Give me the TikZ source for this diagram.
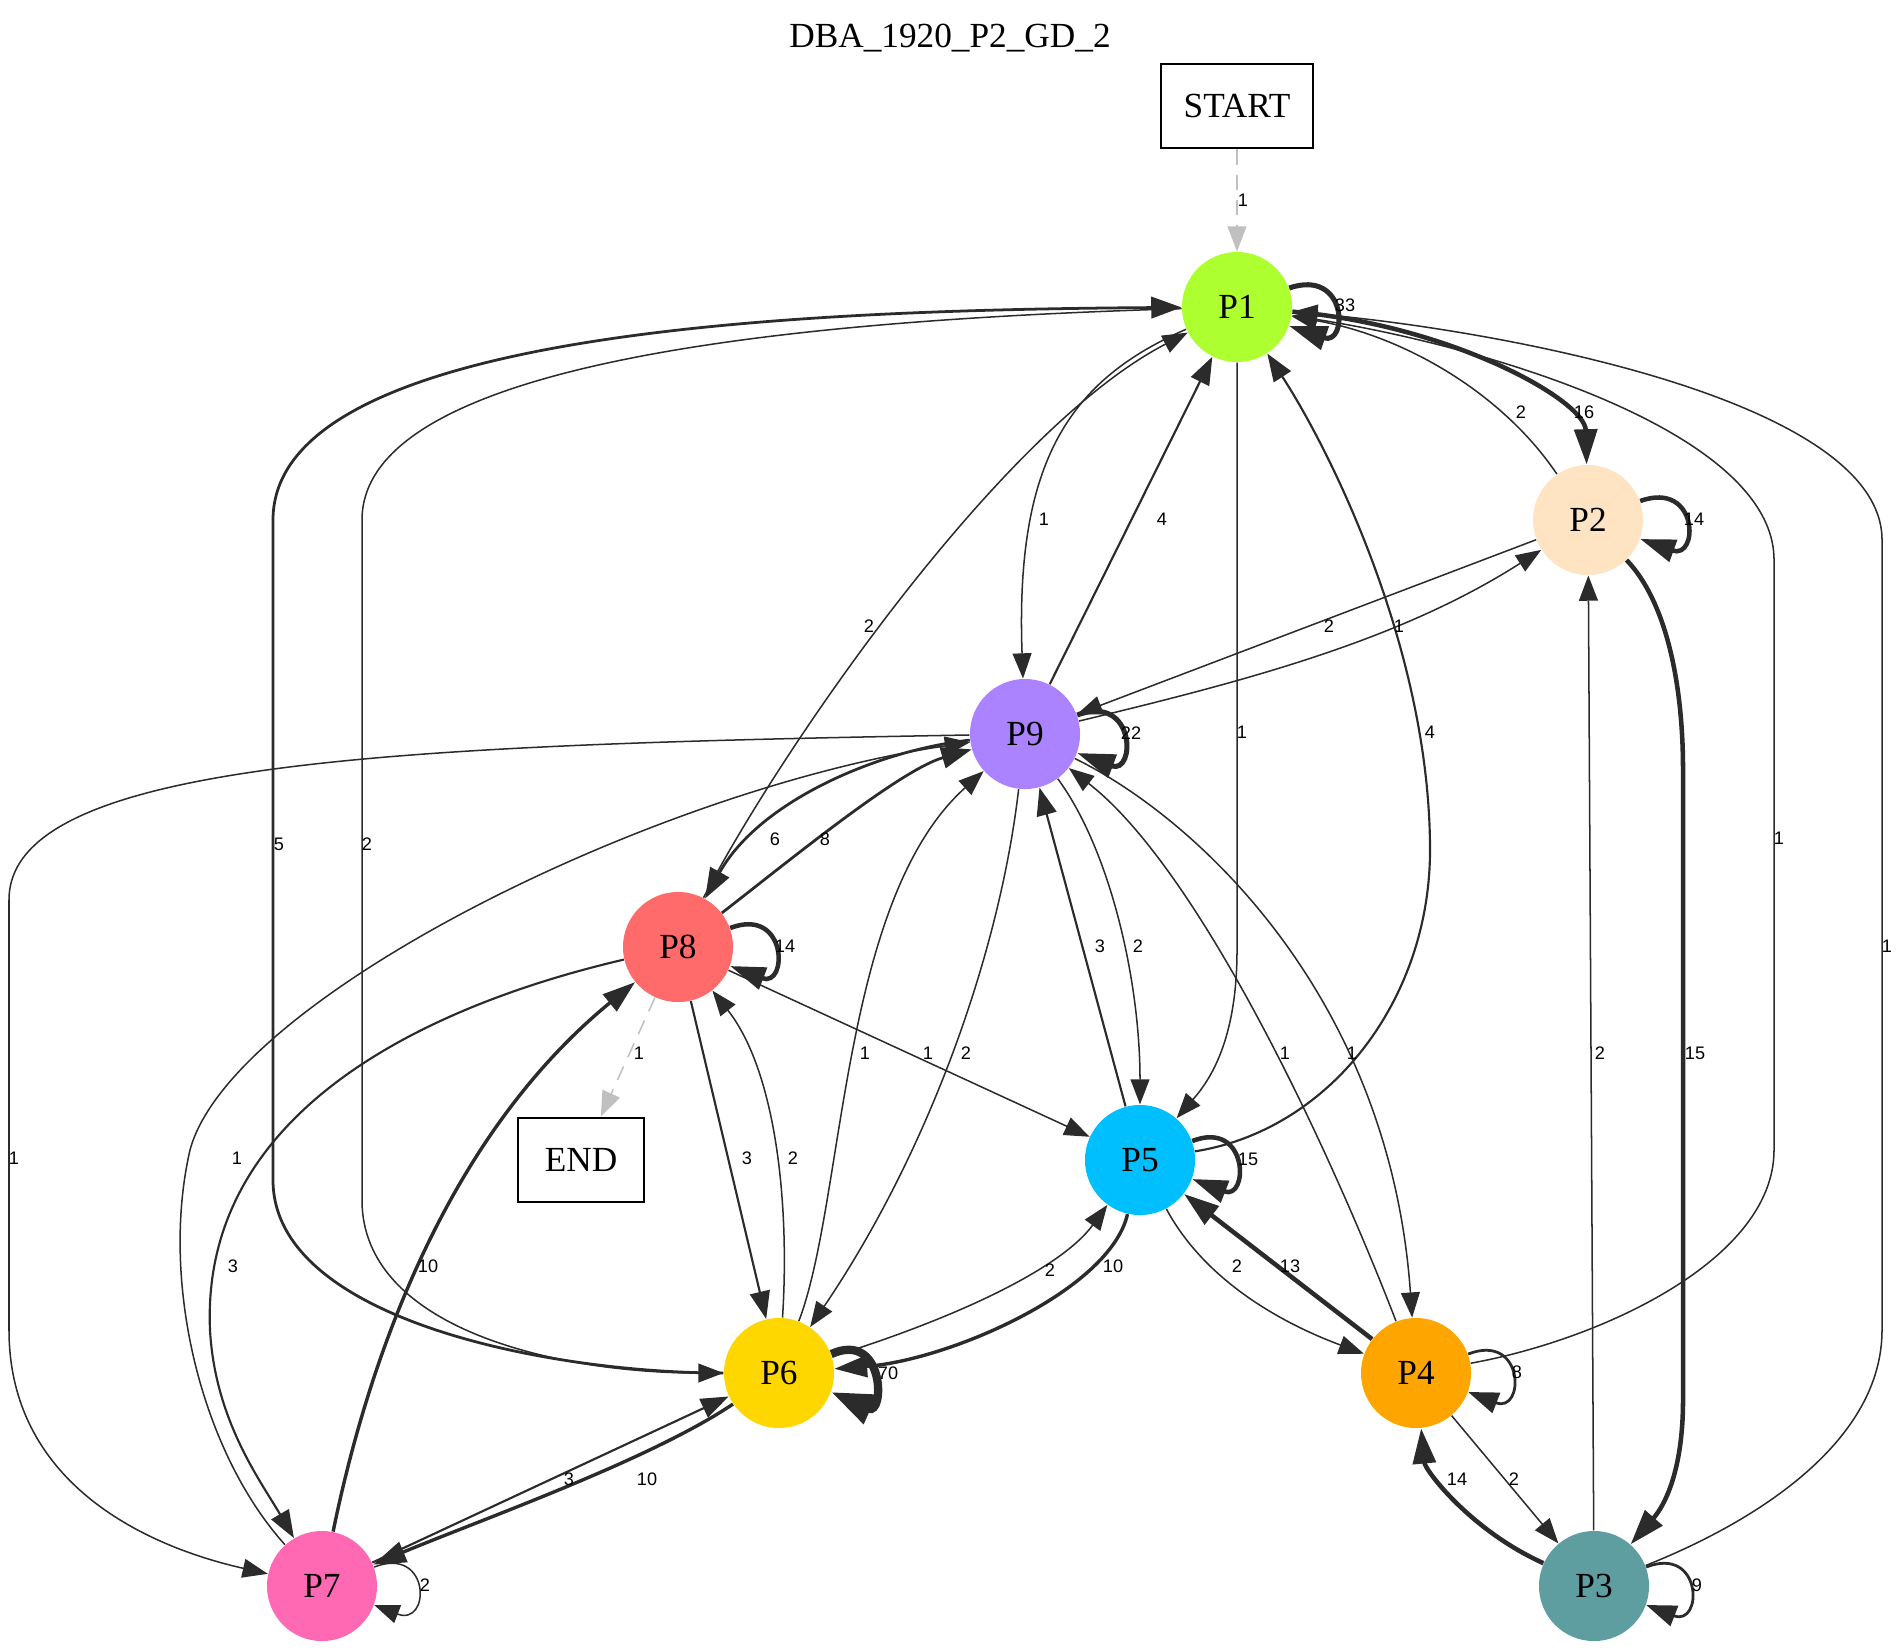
\documentclass[tikz,border=0pt]{standalone}
\usepackage{fontspec}
\setmainfont{Liberation Serif}
\newfontfamily\countfont{Liberation Sans}
\usetikzlibrary{arrows.meta}
\definecolor{ponecolor}{RGB}{173,255,47}
\definecolor{ptwocolor}{RGB}{255,228,196}
\definecolor{pthreecolor}{RGB}{95,158,160}
\definecolor{pfourcolor}{RGB}{255,165,0}
\definecolor{pfivecolor}{RGB}{0,191,255}
\definecolor{psixcolor}{RGB}{255,215,0}
\definecolor{psevencolor}{RGB}{255,105,180}
\definecolor{peightcolor}{RGB}{255,106,106}
\definecolor{pninecolor}{RGB}{171,130,255}
\definecolor{flowcolor}{RGB}{43,43,43}
\definecolor{termcolor}{RGB}{192,192,192}

\tikzset{
    pstate/.style={circle, minimum size=43.7pt, inner sep=0pt, font=\fontsize{14}{16}\selectfont},
    termbox/.style={draw, line width=0.8pt, minimum height=33.7pt, inner sep=0pt, font=\fontsize{14}{16}\selectfont},
    cnt/.style={font=\countfont\fontsize{7.2}{8}\selectfont, inner sep=0pt, text=black},
    fthin/.style={draw=flowcolor, line width=0.6pt, -{Triangle[length=10pt, width=7.5pt]}},
    fmid/.style={draw=flowcolor, line width=0.85pt, -{Triangle[length=11pt, width=8pt]}},
    fbold/.style={draw=flowcolor, line width=1.1pt, -{Triangle[length=12pt, width=8.5pt]}},
    fheavy/.style={draw=flowcolor, line width=1.35pt, -{Triangle[length=13pt, width=8.5pt]}},
    fstrong/.style={draw=flowcolor, line width=1.8pt, -{Triangle[length=14pt, width=9pt]}},
    fheavier/.style={draw=flowcolor, line width=2pt, -{Triangle[length=15pt, width=9.5pt]}},
    fhuge/.style={draw=flowcolor, line width=3.3pt, -{Triangle[length=17pt, width=12pt]}},
    startflow/.style={draw=termcolor, line width=0.6pt, dash pattern=on 6pt off 4pt, -{Triangle[length=10pt, width=7.5pt]}}
}

\begin{document}
\begin{tikzpicture}[x=0.397pt, y=-0.397pt]

    % cadre
    \useasboundingbox (0,0) rectangle (1903,1650);

    % === TITRE ET BOITES ===
    \node[font=\fontsize{14}{16}\selectfont, anchor=base] (title) at (950,47) {DBA\_1920\_P2\_GD\_2};
    \node[termbox, minimum width=60.3pt] (START) at (1237,106) {START};
    \node[termbox, minimum width=50.4pt] (END) at (581,1160) {END};

    % === ETATS ===
    \node[pstate, fill=ponecolor] (P1) at (1237,307) {P1};
    \node[pstate, fill=ptwocolor] (P2) at (1588,520) {P2};
    \node[pstate, fill=pninecolor] (P9) at (1025,734) {P9};
    \node[pstate, fill=peightcolor] (P8) at (678,947) {P8};
    \node[pstate, fill=pfivecolor] (P5) at (1140,1160) {P5};
    \node[pstate, fill=psixcolor] (P6) at (779,1373) {P6};
    \node[pstate, fill=pfourcolor] (P4) at (1416,1373) {P4};
    \node[pstate, fill=psevencolor] (P7) at (322,1586) {P7};
    \node[pstate, fill=pthreecolor] (P3) at (1594,1586) {P3};

    % === DEBUT ET FIN ===
    \draw[startflow] (START) -- (P1) node[cnt] at (1243,200) {1};
    \draw[startflow] (P8) -- (END) node[cnt] at (639,1053) {1};

    % === BOUCLES ===
    \draw[fheavier] (P1.20) .. controls (1348,268) and (1348,346) .. (P1.-20) node[cnt] at (1345,305) {33};
    \draw[fstrong] (P2.20) .. controls (1699,480) and (1699,560) .. (P2.-20) node[cnt] at (1694,519) {14};
    \draw[fbold] (P3.20) .. controls (1703,1545) and (1703,1627) .. (P3.-20) node[cnt] at (1697,1585) {9};
    \draw[fbold] (P4.20) .. controls (1525,1332) and (1525,1414) .. (P4.-20) node[cnt] at (1517,1372) {8};
    \draw[fstrong] (P5.20) .. controls (1249,1119) and (1249,1201) .. (P5.-20) node[cnt] at (1248,1159) {15};
    \draw[fhuge] (P6.20) .. controls (885,1330) and (885,1416) .. (P6.-20) node[cnt] at (888,1373) {70};
    \draw[fthin] (P7.20) .. controls (431,1545) and (431,1627) .. (P7.-20) node[cnt] at (425,1585) {2};
    \draw[fstrong] (P8.20) .. controls (788,906) and (788,988) .. (P8.-20) node[cnt] at (785,946) {14};
    \draw[fheavier] (P9.20) .. controls (1136,693) and (1136,775) .. (P9.-20) node[cnt] at (1131,733) {22};

    % === AUTOUR DE P1 ===
    \draw[fstrong] (P1) .. controls (1450,325) and (1585,400) .. (P2) node[cnt] at (1584,412) {16};
    \draw[fthin] (P2) .. controls (1500,390) and (1400,335) .. (P1) node[cnt] at (1521,412) {2};
    \draw[fthin] (P3) .. controls (1760,1520) and (1882,1440) .. (1882,1330) -- (1882,540) .. controls (1882,400) and (1500,330) .. (P1) node[cnt] at (1887,946) {1};
    \draw[fthin] (P4) .. controls (1600,1340) and (1774,1260) .. (1774,1150) -- (1774,560) .. controls (1774,430) and (1480,345) .. (P1) node[cnt] at (1779,838) {1};
    \draw[fthin] (P1) .. controls (1070,380) and (1015,460) .. (P9) node[cnt] at (1044,519) {1};
    \draw[fmid] (P9) -- (P1) node[cnt] at (1162,519) {4};
    \draw[fthin] (P8) .. controls (780,750) and (1000,430) .. (P1) node[cnt] at (869,626) {2};
    \draw[fthin] (P1) -- (1237,950) .. controls (1237,1040) and (1210,1080) .. (P5) node[cnt] at (1242,732) {1};
    \draw[fmid] (P5) .. controls (1330,1130) and (1430,1000) .. (1430,850) .. controls (1430,650) and (1330,450) .. (P1) node[cnt] at (1430,732) {4};
    \draw[fbold] (P6) .. controls (550,1373) and (273,1320) .. (273,1180) -- (273,520) .. controls (273,330) and (800,310) .. (P1) node[cnt] at (279,844) {5};
    \draw[fthin] (P1) .. controls (800,320) and (362,360) .. (362,520) -- (362,1200) .. controls (362,1330) and (560,1373) .. (P6) node[cnt] at (367,844) {2};

    % === P2 ET P3 ===
    \draw[fstrong] (P2) .. controls (1665,600) and (1683,680) .. (1683,770) -- (1683,1400) .. controls (1683,1470) and (1665,1505) .. (P3) node[cnt] at (1695,1053) {15};
    \draw[fthin] (P3) -- (P2) node[cnt] at (1600,1053) {2};
    \draw[fthin] (P2) -- (P9) node[cnt] at (1329,626) {2};
    \draw[fthin] (P9) .. controls (1250,680) and (1400,640) .. (P2) node[cnt] at (1399,626) {1};

    % === AUTOUR DE P9 ===
    \draw[fbold] (P9) .. controls (880,750) and (760,800) .. (P8) node[cnt] at (775,839) {6};
    \draw[fbold] (P8) .. controls (790,860) and (900,770) .. (P9) node[cnt] at (825,839) {8};
    \draw[fthin] (P9) .. controls (400,745) and (9,760) .. (9,900) -- (9,1330) .. controls (9,1480) and (140,1545) .. (P7) node[cnt] at (14,1158) {1};
    \draw[fthin] (P7) .. controls (200,1450) and (160,1280) .. (190,1150) .. controls (230,1000) and (650,790) .. (P9) node[cnt] at (237,1158) {1};
    \draw[fthin] (P9) .. controls (1000,950) and (930,1150) .. (P6) node[cnt] at (966,1053) {2};
    \draw[fthin] (P6) .. controls (845,1200) and (840,900) .. (P9) node[cnt] at (865,1053) {1};
    \draw[fmid] (P5) -- (P9) node[cnt] at (1100,946) {3};
    \draw[fthin] (P9) .. controls (1110,850) and (1140,980) .. (P5) node[cnt] at (1138,946) {2};
    \draw[fthin] (P4) .. controls (1330,1150) and (1200,870) .. (P9) node[cnt] at (1285,1053) {1};
    \draw[fthin] (P9) .. controls (1200,820) and (1390,1000) .. (P4) node[cnt] at (1352,1053) {1};

    % === AUTOUR DE P8 ===
    \draw[fmid] (P8) -- (P6) node[cnt] at (747,1158) {3};
    \draw[fthin] (P6) .. controls (790,1200) and (775,1070) .. (P8) node[cnt] at (793,1158) {2};
    \draw[fthin] (P8) -- (P5) node[cnt] at (928,1053) {1};
    \draw[fmid] (P8) .. controls (450,1000) and (200,1100) .. (210,1330) .. controls (215,1420) and (260,1480) .. (P7) node[cnt] at (233,1266) {3};
    \draw[fheavy] (P7) .. controls (360,1400) and (430,1150) .. (P8) node[cnt] at (428,1266) {10};

    % === BAS DU GRAPHE ===
    \draw[fheavy] (P5) .. controls (1110,1290) and (950,1360) .. (P6) node[cnt] at (1113,1266) {10};
    \draw[fthin] (P6) .. controls (950,1320) and (1060,1270) .. (P5) node[cnt] at (1050,1270) {2};
    \draw[fthin] (P5) .. controls (1210,1290) and (1300,1330) .. (P4) node[cnt] at (1237,1266) {2};
    \draw[fstrong] (P4) -- (P5) node[cnt] at (1290,1266) {13};
    \draw[fheavy] (P6) .. controls (650,1460) and (480,1520) .. (P7) node[cnt] at (647,1479) {10};
    \draw[fmid] (P7) -- (P6) node[cnt] at (569,1479) {3};
    \draw[fthin] (P4) -- (P3) node[cnt] at (1514,1479) {2};
    \draw[fstrong] (P3) .. controls (1470,1530) and (1425,1470) .. (P4) node[cnt] at (1457,1479) {14};

\end{tikzpicture}
\end{document}
